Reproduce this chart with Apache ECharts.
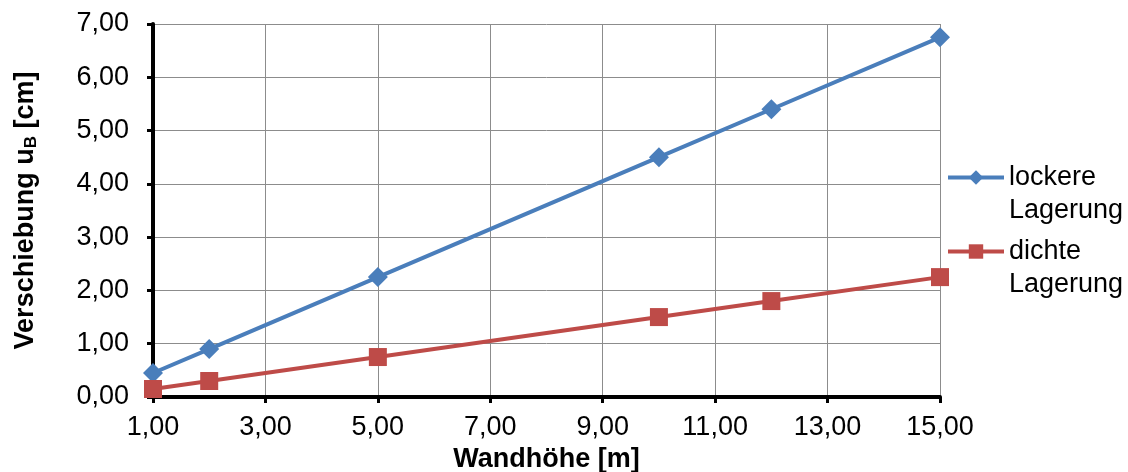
<!DOCTYPE html>
<html>
<head>
<meta charset="utf-8">
<script src="https://cdn.jsdelivr.net/npm/echarts@6/dist/echarts.min.js"></script>
<style>
  html, body { margin: 0; padding: 0; background: #fff; }
  #chart { width: 1128px; height: 472px; }
</style>
</head>
<body>
<div id="chart"></div>
<script>
const wandhoehe = [1, 2, 5, 10, 12, 15]
const lockere = [0.45, 0.9, 2.25, 4.5, 5.4, 6.75]
const dichte = [0.15, 0.3, 0.75, 1.5, 1.8, 2.25]
const seriesNames = ['lockere Lagerung', 'dichte Lagerung']

const fmt = (v) => v.toFixed(2).replace('.', ',')
const pairs = (ys) => wandhoehe.map((x, i) => [x, ys[i]])

const font = 'Arial, "Liberation Sans", sans-serif'

const axisCommon = {
  axisLine: { lineStyle: { color: '#000', width: 4 } },
  axisTick: { show: true, inside: false, length: 6, lineStyle: { color: '#000', width: 3 } },
  splitLine: { show: true, lineStyle: { color: '#8c8c8c', width: 1 } },
  nameTextStyle: { fontFamily: font, fontSize: 27, fontWeight: 'bold', color: '#000' }
}

const legendText = { fontFamily: font, fontSize: 27, color: '#000', lineHeight: 33 }

// blank first line so the icon sits beside the first text line
const legendLabel = (name) => '\u00a0\n' + name.replace(' ', '\n')

const chart = echarts.init(document.getElementById('chart'))
chart.setOption({
  animation: false,
  grid: { left: 153, right: 188, top: 24, bottom: 75, containLabel: false, outerBoundsMode: 'none' },
  xAxis: {
    type: 'value', min: 1, max: 15, interval: 2,
    name: 'Wandhöhe [m]', nameLocation: 'middle', nameGap: 49,
    axisLabel: { formatter: fmt, fontFamily: font, fontSize: 27, color: '#000', margin: 17 },
    ...axisCommon
  },
  yAxis: {
    type: 'value', min: 0, max: 7, interval: 1,
    name: '{m|Verschiebung u}{s|B}{m| [cm]}', nameLocation: 'middle', nameGap: 113,
    axisLabel: { formatter: fmt, fontFamily: font, fontSize: 27, color: '#000', margin: 24 },
    ...axisCommon,
    nameTextStyle: {
      ...axisCommon.nameTextStyle,
      rich: {
        m: { fontFamily: font, fontSize: 27, fontWeight: 'bold', color: '#000' },
        s: { fontFamily: font, fontSize: 17, fontWeight: 'bold', color: '#000', padding: [12, 0, 0, 0] }
      }
    }
  },
  legend: [
    {
      data: [seriesNames[0]], orient: 'vertical', left: 946, top: 128, padding: 0,
      itemWidth: 56, itemHeight: 18, itemGap: 0, lineStyle: { width: 4 },
      formatter: legendLabel, textStyle: legendText
    },
    {
      data: [seriesNames[1]], orient: 'vertical', left: 946, top: 202, padding: 0,
      itemWidth: 56, itemHeight: 18, itemGap: 0, lineStyle: { width: 4 },
      formatter: legendLabel, textStyle: legendText
    }
  ],
  series: [
    {
      name: seriesNames[0], type: 'line', data: pairs(lockere),
      symbol: 'diamond', symbolSize: 20,
      lineStyle: { color: '#4a7ebb', width: 4 },
      itemStyle: { color: '#4a7ebb' }
    },
    {
      name: seriesNames[1], type: 'line', data: pairs(dichte),
      symbol: 'rect', symbolSize: 18,
      lineStyle: { color: '#be4b48', width: 4 },
      itemStyle: { color: '#be4b48' }
    }
  ]
})
</script>
</body>
</html>
